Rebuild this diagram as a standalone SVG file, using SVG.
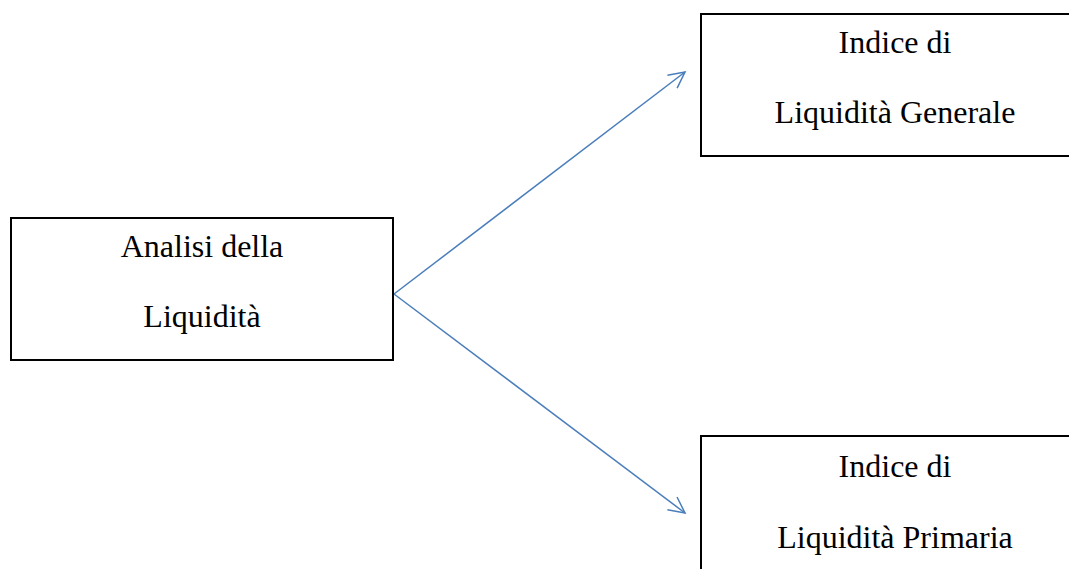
<svg xmlns="http://www.w3.org/2000/svg" width="1069" height="569" viewBox="0 0 1069 569">
<style>
.box{fill:#fff;stroke:#000;stroke-width:2}
.t{font-family:"Liberation Serif","Times New Roman",serif;font-size:32px;fill:#000;text-anchor:middle}
.c{stroke:#4a7ebb;stroke-width:1.5;fill:none}
</style>
<defs>
<marker id="ah" viewBox="0 0 20 20" refX="18" refY="10" markerWidth="20" markerHeight="20" markerUnits="userSpaceOnUse" orient="auto">
<polyline points="2,2 18,10 2,18" fill="none" stroke="#4a7ebb" stroke-width="1.5"/>
</marker>
</defs>
<rect width="1069" height="569" fill="#fff"/>
<g id="connectors">
<line class="c" x1="394" y1="294" x2="685" y2="72" marker-end="url(#ah)"/>
<line class="c" x1="394" y1="294" x2="685" y2="513" marker-end="url(#ah)"/>
</g>
<g id="analisi">
<rect class="box" x="11" y="218" width="382" height="142"/>
<text class="t" x="202" y="257">Analisi della</text>
<text class="t" x="202" y="327">Liquidità</text>
</g>
<g id="generale">
<rect class="box" x="701" y="14" width="390" height="142"/>
<text class="t" x="895" y="53">Indice di</text>
<text class="t" x="895" y="123">Liquidità Generale</text>
</g>
<g id="primaria">
<rect class="box" x="701" y="436" width="390" height="150"/>
<text class="t" x="895" y="477">Indice di</text>
<text class="t" x="895" y="548">Liquidità Primaria</text>
</g>
</svg>
